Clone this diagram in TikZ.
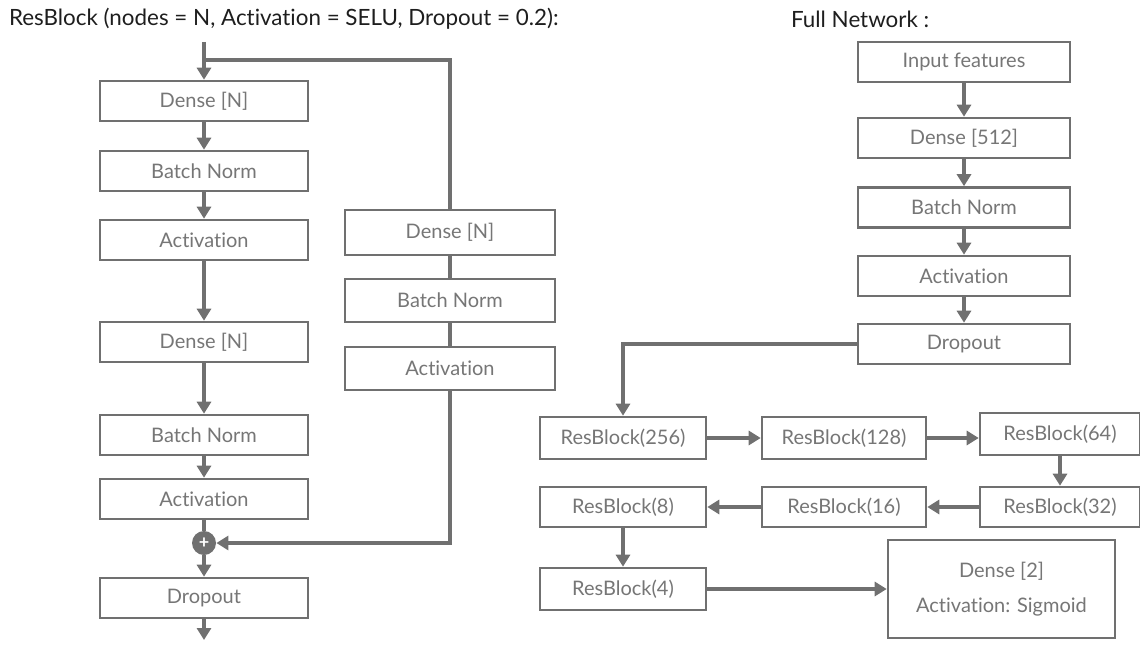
\documentclass[tikz,border=0pt]{standalone}
\usepackage{fontspec}
\setmainfont[Ligatures=NoCommon]{Lato}
\setsansfont[Ligatures=NoCommon]{Lato}
\usetikzlibrary{arrows.meta}
\definecolor{linegray}{RGB}{112,112,112}
\definecolor{labelgray}{RGB}{118,118,118}
\definecolor{headink}{RGB}{30,30,30}

\begin{document}
\begin{tikzpicture}[
  x=0.5pt,y=-0.5pt,
  font=\sffamily,
  flow/.style={-{Triangle[length=6pt,width=7pt]}, draw=linegray,
               line width=1.6pt},
  link/.style={draw=linegray, line width=1.6pt},
  block/.style={draw=linegray, line width=1.3pt, fill=white,
                text=labelgray, font=\sffamily\fontsize{10}{12}\selectfont,
                minimum width=104pt, minimum height=20pt, inner sep=0pt},
  resblk/.style={block, minimum width=83pt, minimum height=21pt},
  heading/.style={anchor=west, text=headink,
                  font=\sffamily\fontsize{11.2}{13}\selectfont}
]
\useasboundingbox (0,0) rectangle (1140,647);

% Headings.
\node[heading] (hres) at (2,19) {ResBlock (nodes = N, Activation = SELU, Dropout = 0.2):};
\node[heading] (hfull) at (784,19) {Full Network :};

% ResBlock, main path.
\coordinate (inres) at (204,42);
\coordinate (split) at (204,60);
\node[block] (dense1) at (204,101) {Dense [N]};
\node[block] (bn1) at (204,171) {Batch Norm};
\node[block] (act1) at (204,240) {Activation};
\node[block] (dense2) at (204,342) {Dense [N]};
\node[block] (bn2) at (204,435) {Batch Norm};
\node[block] (act2) at (204,499) {Activation};
\node[circle, fill=linegray, text=white, minimum size=12pt, inner sep=0pt,
      font=\sffamily\bfseries\fontsize{9}{9}\selectfont] (plus) at (204,543) {+};
\node[block] (drop) at (204,598) {Dropout};
\coordinate (outres) at (204,640);

\draw[flow] (inres) -- (dense1);
\draw[flow] (dense1) -- (bn1);
\draw[flow] (bn1) -- (act1);
\draw[flow] (act1) -- (dense2);
\draw[flow] (dense2) -- (bn2);
\draw[flow] (bn2) -- (act2);
\draw[link] (act2) -- (plus);
\draw[flow] (plus) -- (drop);
\draw[flow] (drop) -- (outres);

% ResBlock, shortcut branch.
\node[block, minimum width=105pt, minimum height=22.5pt] (sdense) at (450,232.5) {Dense [N]};
\node[block, minimum width=105pt, minimum height=21.5pt] (sbn) at (450,300.5) {Batch Norm};
\node[block, minimum width=105pt, minimum height=21.5pt] (sact) at (450,368.5) {Activation};

\draw[link] (split) -| (sdense.north);
\draw[link] (sdense) -- (sbn);
\draw[link] (sbn) -- (sact);
\draw[flow] (sact.south) |- (plus.east);

% Full network, input stack.
\node[block, minimum width=106pt] (input) at (964,62) {Input features};
\node[block, minimum width=106pt] (dense512) at (964,138) {Dense [512]};
\node[block, minimum width=106pt] (fbn) at (964,207.5) {Batch Norm};
\node[block, minimum width=106pt] (fact) at (964,276) {Activation};
\node[block, minimum width=106pt] (fdrop) at (964,344) {Dropout};

\draw[flow] (input) -- (dense512);
\draw[flow] (dense512) -- (fbn);
\draw[flow] (fbn) -- (fact);
\draw[flow] (fact) -- (fdrop);

% Full network, residual blocks.
\node[resblk] (rb256) at (623,438) {ResBlock(256)};
\node[resblk, minimum width=82pt] (rb128) at (844,438) {ResBlock(128)};
\node[resblk, minimum width=80pt] (rb64) at (1060,434) {ResBlock(64)};
\node[resblk, minimum width=80pt, minimum height=20pt] (rb32) at (1060,507) {ResBlock(32)};
\node[resblk, minimum width=82pt, minimum height=20pt] (rb16) at (844,507) {ResBlock(16)};
\node[resblk, minimum height=20pt] (rb8) at (623,507) {ResBlock(8)};
\node[resblk] (rb4) at (623,589) {ResBlock(4)};
\node[block, minimum width=113.5pt, minimum height=49pt, align=center,
      font=\sffamily\fontsize{10}{17.5}\selectfont]
  (dense2out) at (1001.5,589) {Dense [2]\\Activation: Sigmoid};

\draw[flow] (fdrop.west) -| (rb256.north);
\draw[flow] (rb256) -- (rb128);
\draw[flow] (rb128.east) -- (rb128.east -| rb64.west);
\draw[flow] (rb64) -- (rb32);
\draw[flow] (rb32) -- (rb16);
\draw[flow] (rb16) -- (rb8);
\draw[flow] (rb8) -- (rb4);
\draw[flow] (rb4) -- (dense2out);

\end{tikzpicture}
\end{document}
